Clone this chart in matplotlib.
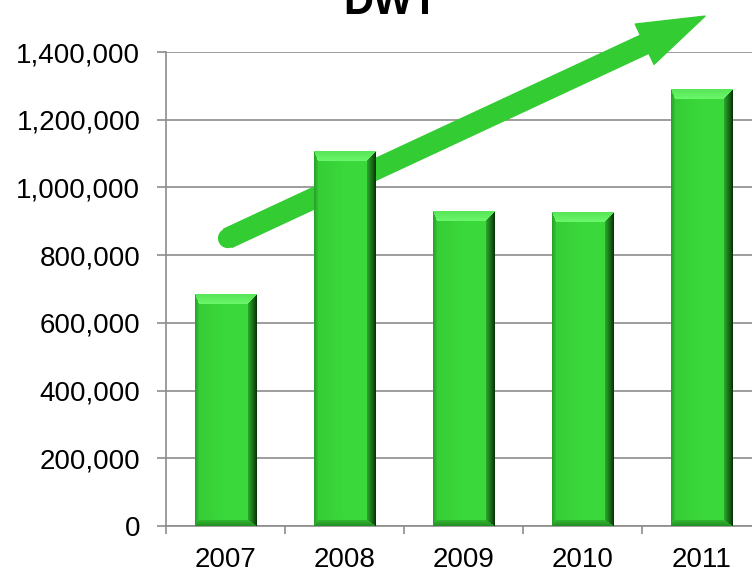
import numpy as np
import matplotlib.pyplot as plt
from matplotlib.ticker import FixedLocator, FuncFormatter

plt.rcParams['font.family'] = ['Liberation Sans', 'DejaVu Sans']

years = ['2007', '2008', '2009', '2010', '2011']
dwt = [685000, 1105000, 930000, 927000, 1288000]
yticks = [0, 200000, 400000, 600000, 800000, 1000000, 1200000, 1400000]

# trend arrow, from / to in data units
trend_from = (0.02, 850000)
trend_to = (4.03, 1506000)

bar_w = 0.52
grid_col = '#8c8c8c'
arrow_col = '#33cc33'


def mix(a, b, t):
    a = np.asarray(a)
    b = np.asarray(b)
    return a + (b - a) * t[..., None]


def bevel_image(wpx, hpx, bl=4, br=9, bt=10, bb=6):
    nx = max(int(round(wpx)), 2)
    ny = max(int(round(hpx)), 2)
    jj, ii = np.meshgrid(np.arange(nx) + 0.5, np.arange(ny) + 0.5)
    dl, dr, dt, db = jj, nx - jj, ii, ny - ii
    norm = np.stack([dl / bl, dr / br, dt / bt, db / bb])
    face = np.argmin(norm, axis=0)
    t = np.clip(np.min(norm, axis=0), 0, 1)

    # flat face, a touch lighter towards the middle
    u = jj / nx
    img = mix((0.21, 0.80, 0.21), (0.23, 0.85, 0.23), np.clip(u * 2.0, 0, 1))
    inb = t < 1
    faces = [
        mix((0.16, 0.62, 0.16), (0.20, 0.77, 0.20), t),   # left
        mix((0.02, 0.16, 0.02), (0.17, 0.66, 0.17), t ** 0.8),   # right
        mix((0.34, 0.90, 0.34), (0.42, 0.97, 0.42), t),   # top
        mix((0.14, 0.56, 0.14), (0.19, 0.72, 0.19), t),   # bottom
    ]
    for k in range(4):
        m = inb & (face == k)
        img[m] = faces[k][m]
    return img


fig = plt.figure(figsize=(7.52, 5.72), dpi=100)
ax = fig.add_axes([166 / 752, 46 / 572, 595 / 752, 474 / 572])

ax.set_xlim(-0.5, 4.5)
ax.set_ylim(0, 1400000)

x = np.arange(len(years))
for xi, v in zip(x, dwt):
    x0, x1 = xi - bar_w / 2, xi + bar_w / 2
    p0 = ax.transData.transform((x0, 0))
    p1 = ax.transData.transform((x1, v))
    img = bevel_image(p1[0] - p0[0], p1[1] - p0[1])
    ax.imshow(img, extent=(x0, x1, 0, v), origin='upper', aspect='auto',
              interpolation='bilinear', zorder=3)

ax.set_xlim(-0.5, 4.5)
ax.set_ylim(0, 1400000)

# horizontal gridlines
ax.yaxis.set_major_locator(FixedLocator(yticks))
ax.yaxis.set_major_formatter(FuncFormatter(lambda v, p: f'{int(v):,}'))
ax.grid(axis='y', color=grid_col, linewidth=1.2, zorder=0)
ax.set_axisbelow(True)

# category ticks between bars, labels under bars
ax.xaxis.set_major_locator(FixedLocator(np.arange(-0.5, 5.0, 1.0)))
ax.xaxis.set_major_formatter(FuncFormatter(lambda v, p: ''))
ax.xaxis.set_minor_locator(FixedLocator(x))
ax.set_xticklabels(years, minor=True)
ax.tick_params(axis='x', which='major', length=6, width=1.2, color=grid_col)
ax.tick_params(axis='x', which='minor', length=0, pad=15, labelsize=20)
ax.tick_params(axis='y', length=6.5, width=1.2, color=grid_col, pad=12,
               labelsize=20)

for s in ['top', 'right']:
    ax.spines[s].set_visible(False)
for s in ['left', 'bottom']:
    ax.spines[s].set_color(grid_col)
    ax.spines[s].set_linewidth(1.2)

# trend arrow, behind the bars
ax.plot([trend_from[0], (trend_from[0] + trend_to[0]) / 2],
        [trend_from[1], (trend_from[1] + trend_to[1]) / 2],
        color=arrow_col, linewidth=14.4, solid_capstyle='round',
        zorder=2, clip_on=False)
ax.annotate('', xy=trend_to, xytext=trend_from, annotation_clip=False,
            zorder=2,
            arrowprops=dict(arrowstyle='simple,head_length=2.4,head_width=1.6,tail_width=0.72',
                            mutation_scale=20, color=arrow_col, shrinkA=0,
                            shrinkB=0, clip_on=False))

fig.text(391 / 752, 1 - 14 / 572, 'DWT', ha='center', va='baseline',
         fontsize=30, fontweight='bold')

fig.savefig('out.png', dpi=100)
